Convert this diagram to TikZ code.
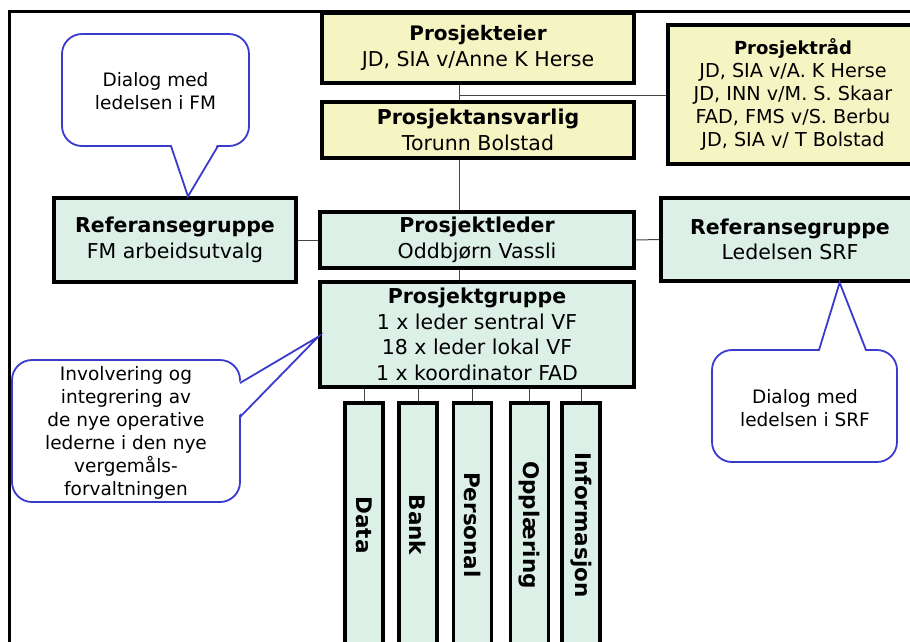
\documentclass[tikz,border=0pt]{standalone}
\usepackage{fontspec}
\setmainfont{DejaVu Sans}
\usepackage{xcolor}
\usepackage{tikz}
\usetikzlibrary{calc}
\definecolor{ownerfill}{RGB}{245,245,196}
\definecolor{groupfill}{RGB}{220,240,231}
\definecolor{calloutblue}{RGB}{58,58,205}
\definecolor{linkgray}{RGB}{70,70,70}

\begin{document}
\begin{tikzpicture}[
    x=1pt, y=-1pt,
    box/.style={draw=black, line width=3.3pt, inner sep=0pt, align=center,
        font=\fontsize{20.5}{25.5}\selectfont},
    yellowbox/.style={box, fill=ownerfill},
    greenbox/.style={box, fill=groupfill},
    barbox/.style={greenbox, minimum width=38pt, minimum height=244pt},
    link/.style={draw=linkgray, line width=1pt},
    callout/.style={draw=calloutblue, line width=1.8pt, fill=white},
    callouttext/.style={align=center, inner sep=0pt,
        font=\fontsize{18.5}{23}\selectfont}
]
\useasboundingbox (0,0) rectangle (910,641);
\clip (0,0) rectangle (910,641);

% frame
\draw[line width=3pt] (9,11) rectangle (930,660);

% owner side
\node[yellowbox, minimum width=312pt, minimum height=70pt] (eier) at (478,48)
    {{\fontsize{20}{25.5}\selectfont\bfseries Prosjekteier}\\JD, SIA v/Anne K Herse};
\node[yellowbox, minimum width=312pt, minimum height=56pt] (ansvarlig) at (478,130)
    {\textbf{Prosjektansvarlig}\\Torunn Bolstad};
\node[yellowbox, minimum width=250pt, minimum height=139pt,
    font=\fontsize{19.2}{23}\selectfont] (raad) at (793,94.5)
    {{\fontsize{18}{23}\selectfont\bfseries Prosjektråd}\\JD, SIA v/A. K Herse\\
     JD, INN v/M. S. Skaar\\FAD, FMS v/S. Berbu\\JD, SIA v/ T Bolstad};

% project side
\node[greenbox, minimum width=314pt, minimum height=56pt] (leder) at (477,240)
    {\textbf{Prosjektleder}\\Oddbjørn Vassli};
\node[greenbox, minimum width=314pt, minimum height=105pt] (gruppe) at (477,334.5)
    {\textbf{Prosjektgruppe}\\1 x leder sentral VF\\18 x leder lokal VF\\1 x koordinator FAD};
\node[greenbox, minimum width=242pt, minimum height=84pt] (refFM) at (175,240)
    {\textbf{Referansegruppe}\\FM arbeidsutvalg};
\node[greenbox, minimum width=258pt, minimum height=83pt] (refSRF) at (790,239.5)
    {\textbf{Referansegruppe}\\Ledelsen SRF};

% work areas
\foreach \name/\xpos/\label in {data/364/Data, bank/418/Bank, personal/472.5/Personal,
    opplaering/529.5/Opplæring, informasjon/581/Informasjon}
{
    \node[barbox] (\name) at (\xpos,525) {};
    \node[rotate=-90, font=\bfseries\fontsize{21.5}{23}\selectfont] at (\name) {\label};
    \draw[link] (gruppe.south -| \name.north) -- (\name.north);
}

% connectors
\coordinate (spine) at (459,0);
\coordinate (tee) at (459,95);
\draw[link] (eier.south -| spine) -- (ansvarlig.north -| spine);
\draw[link] (tee) -- (tee -| raad.west);
\draw[link] (ansvarlig.south -| spine) -- (leder.north -| spine);
\draw[link] (leder.south -| spine) -- (gruppe.north -| spine);
\draw[link] (refFM.east) -- (leder.west);
\draw[link] (leder.east) -- (refSRF.west);

% callouts
\coordinate (tipFM) at ($(refFM.north west)!0.553!(refFM.north east)$);
\draw[callout, rounded corners=20pt] (62,34) rectangle (249,146);
\fill[white] (171,143) -- (tipFM) -- (218,143) -- cycle;
\draw[callout, fill=none] (171,146) -- (tipFM) -- (218,146);
\node[callouttext] (dialogFM) at (155.5,91) {Dialog med\\ledelsen i FM};

\coordinate (tipSRF) at ($(refSRF.south west)!0.69!(refSRF.south east)$);
\draw[callout, rounded corners=20pt] (712,350) rectangle (897,462);
\fill[white] (819,353) -- (tipSRF) -- (866,353) -- cycle;
\draw[callout, fill=none] (819,350) -- (tipSRF) -- (866,350);
\node[callouttext] (dialogSRF) at (805,408.5) {Dialog med\\ledelsen i SRF};

\coordinate (tipGruppe) at ($(gruppe.north west)!0.52!(gruppe.south west)$);
\draw[callout, rounded corners=20pt] (12,360) rectangle (240,502);
\fill[white] (237,383) -- (tipGruppe) -- (237,417) -- cycle;
\draw[callout, fill=none] (240,383) -- (tipGruppe) -- (240,417);
\node[callouttext] (involvering) at (126,432.5)
    {Involvering og\\integrering av\\de nye operative\\lederne i den nye\\vergemåls-\\forvaltningen};

\end{tikzpicture}
\end{document}
